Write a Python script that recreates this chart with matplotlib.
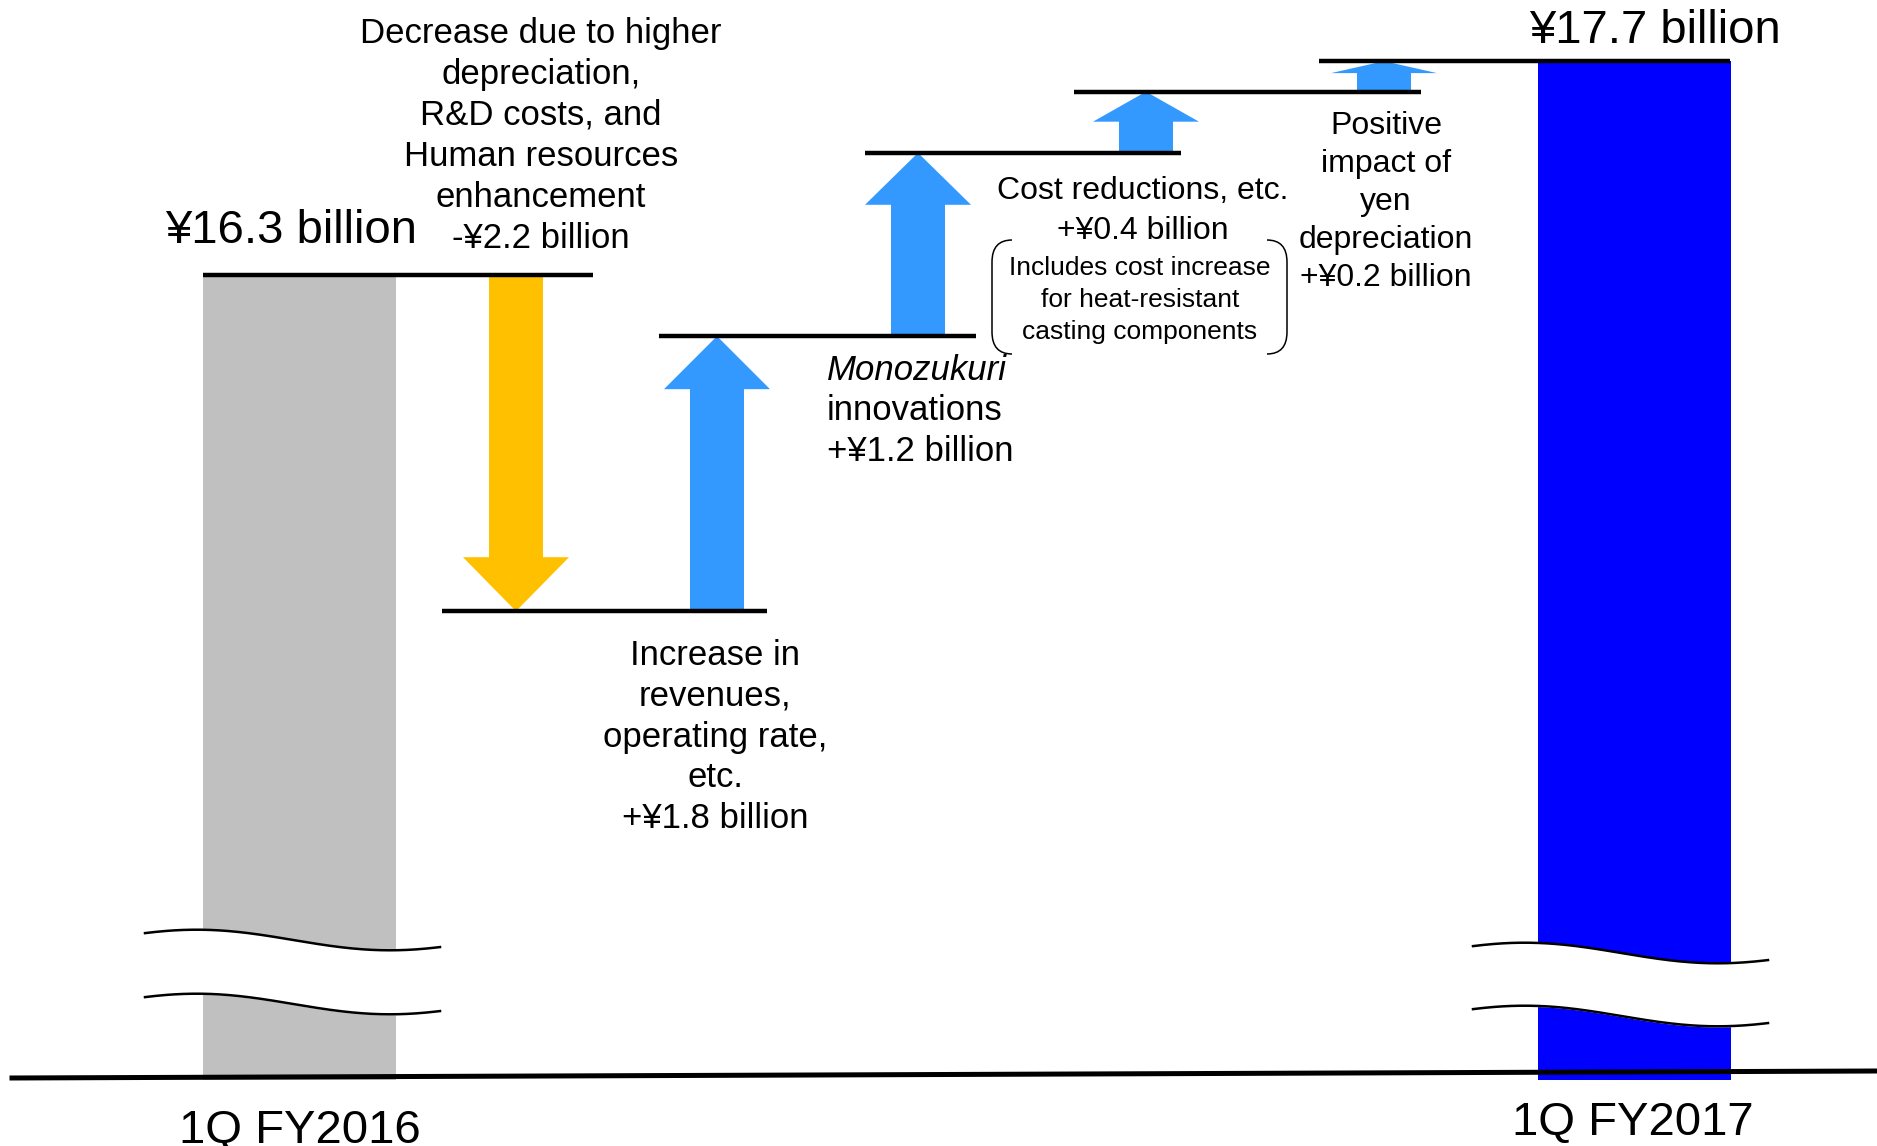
import numpy as np
import matplotlib
matplotlib.use("Agg")
import matplotlib.pyplot as plt
from matplotlib.path import Path
from matplotlib.patches import PathPatch

plt.rcParams['font.family'] = ['Liberation Sans', 'DejaVu Sans']

# データ（単位: 10億円）
start_value = 16.3
end_value = 17.7
changes = [-2.2, 1.8, 1.2, 0.4, 0.2]
categories = ["1Q FY2016", "1Q FY2017"]
total_labels = ["¥16.3 billion", "¥17.7 billion"]
change_labels = [
    "Decrease due to higher\ndepreciation,\nR&D costs, and\nHuman resources\nenhancement\n-¥2.2 billion",
    "Increase in\nrevenues,\noperating rate,\netc.\n+¥1.8 billion",
    "innovations\n+¥1.2 billion",
    "Cost reductions, etc.\n+¥0.4 billion",
    "Positive\nimpact of\nyen\ndepreciation\n+¥0.2 billion",
]
note_label = "Includes cost increase\nfor heat-resistant\ncasting components"

# 水準（累積）
levels = [start_value]
for c in changes:
    levels.append(round(levels[-1] + c, 1))

# レイアウト（ピクセル）
W, H = 1877, 1146
y_top, y_bottom = 18.10, 10.60
px_per_b = H / (y_top - y_bottom)
bar_x = [299.5, 1635]
bar_w = 193
bar_floor = 11.03
arrow_x = [516, 717, 918, 1146, 1384]
head_len_px = [54, 53, 52, 30, 12]
line_x0 = [203, 442, 659, 865, 1074, 1319]
line_x1 = [593, 767, 976, 1181, 1421, 1730]

gray = '#C0C0C0'
blue = '#0000FF'
yellow = '#FFC000'
light_blue = '#3399FF'

fig = plt.figure(figsize=(W / 100, H / 100), dpi=100)
ax = fig.add_axes([0, 0, 1, 1])
ax.set_xlim(0, W)
ax.set_ylim(y_bottom, y_top)
ax.axis('off')

# 棒
ax.bar(bar_x, [start_value - bar_floor, end_value - bar_floor], bottom=bar_floor,
       width=bar_w, color=[gray, blue], zorder=1)

# 接続線
ax.hlines(levels, line_x0, line_x1, colors='black', linewidth=3.2, zorder=3)

# 矢印
for i, c in enumerate(changes):
    col = yellow if c < 0 else light_blue
    ax.arrow(arrow_x[i], levels[i], 0, c, width=54, head_width=106,
             head_length=head_len_px[i] / px_per_b, length_includes_head=True,
             color=col, linewidth=0, zorder=2)

# 注釈用オーバーレイ（ピクセル座標）
ov = fig.add_axes([0, 0, 1, 1])
ov.set_xlim(0, W)
ov.set_ylim(H, 0)
ov.axis('off')
ov.patch.set_alpha(0)

# 波線（省略記号）
def wave(x0, x1, c):
    t = np.linspace(0, 1, 200)
    return x0 + (x1 - x0) * t, c - 10.3 * np.cos(2 * np.pi * (t - 0.175) / 1.31)

for x0, x1, c1, c2 in [(145, 440, 940, 1004), (1473, 1768, 953, 1016)]:
    xs, ya = wave(x0, x1, c1)
    _, yb = wave(x0, x1, c2)
    ov.fill_between(xs, ya, yb, color='white', zorder=1)
    ov.plot(xs, ya, color='black', linewidth=1.8, zorder=2)
    ov.plot(xs, yb, color='black', linewidth=1.8, zorder=2)

# 基線
ov.plot([12, W], [1078, 1071], color='black', linewidth=3.6, zorder=3)

# 括弧
def bracket(xo, xi):
    verts = [(xi, 240), (xo, 240), (xo, 262), (xo, 332), (xo, 354), (xi, 354)]
    codes = [Path.MOVETO, Path.CURVE3, Path.CURVE3, Path.LINETO, Path.CURVE3, Path.CURVE3]
    ov.add_patch(PathPatch(Path(verts, codes), fill=False, edgecolor='black', linewidth=1.1))

bracket(992, 1012)
bracket(1287, 1267)

# テキスト
ov.text(291, 243, total_labels[0], fontsize=34, ha='center', va='baseline')
ov.text(1655, 43, total_labels[1], fontsize=34, ha='center', va='baseline')
ov.text(300, 1143, categories[0], fontsize=34, ha='center', va='baseline')
ov.text(1633, 1135, categories[1], fontsize=34, ha='center', va='baseline')

ov.text(541, 136, change_labels[0], fontsize=25, ha='center', va='center', linespacing=1.31)
ov.text(715, 737, change_labels[1], fontsize=25, ha='center', va='center', linespacing=1.30)
ov.text(827, 370, "Monozukuri", fontsize=25, style='italic', ha='left', va='center')
ov.text(827, 431, change_labels[2], fontsize=25, ha='left', va='center', linespacing=1.32)
ov.text(1143, 211, change_labels[3], fontsize=23, ha='center', va='center', linespacing=1.40)
ov.text(1140, 300, note_label, fontsize=19, ha='center', va='center', linespacing=1.43)
ov.text(1386, 202, change_labels[4], fontsize=23, ha='center', va='center', linespacing=1.34)

fig.savefig("out.png", dpi=100)
